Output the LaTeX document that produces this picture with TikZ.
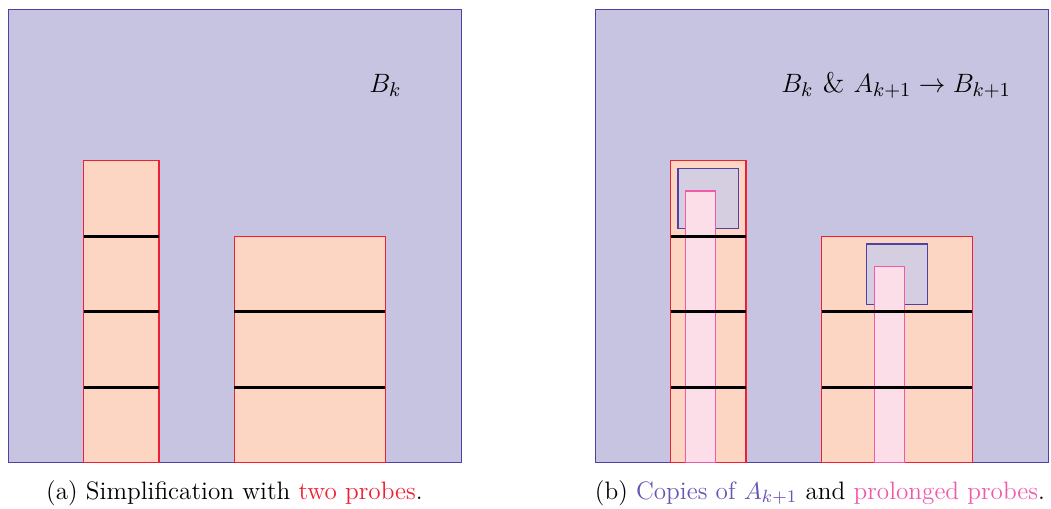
\documentclass[tikz,border=0pt]{standalone}
\usepackage{amsmath}
\usepackage{xcolor}
\usepackage{tikz}
\usetikzlibrary{positioning}

\definecolor{bkfill}{RGB}{199,196,226}
\definecolor{bkdraw}{RGB}{80,65,165}
\definecolor{probefill}{RGB}{252,213,195}
\definecolor{probedraw}{RGB}{240,30,50}
\definecolor{copyblue}{RGB}{105,85,180}
\definecolor{longfill}{RGB}{251,222,232}
\definecolor{longdraw}{RGB}{240,90,170}

\begin{document}
\begin{tikzpicture}[
    x=1.2cm,y=1.2cm,
    region/.style={draw=bkdraw,fill=bkfill,line width=0.4pt},
    probe/.style={draw=probedraw,fill=probefill,line width=0.5pt},
    copybox/.style={draw=bkdraw,fill=bkfill!85!white,fill opacity=0.85,line width=0.6pt},
    longprobe/.style={draw=longdraw,fill=longfill,line width=0.6pt},
    level/.style={line width=1.2pt,draw=black},
    label/.style={font=\fontsize{12.8}{15}\selectfont},
    caption/.style={font=\fontsize{11.4}{13.5}\selectfont,anchor=base}
  ]
    \useasboundingbox (-0.106,-0.61) rectangle (13.815,6.13);

    % left panel
    \draw[region] (0,0) rectangle (6,6);
    \node[label] (bk) at (5.0,5) {$B_k$};
    \draw[probe] (1,0) rectangle (2,4);
    \draw[probe] (3,0) rectangle (5,3);
    \draw[level] (1,1) -- (2,1) (1,2) -- (2,2) (1,3) -- (2,3);
    \draw[level] (3,1) -- (5,1) (3,2) -- (5,2);
    \node[caption] (capa) at (3,-0.48) {(a) Simplification with \textcolor{probedraw}{two probes}.};

    % right panel
    \begin{scope}[xshift=7.775*1.2cm]
      \draw[region] (0,0) rectangle (6,6);
      \node[label] (bknext) at (3.99,5) {$B_k$ \& $A_{k+1}\to B_{k+1}$};
      \draw[probe] (1,0) rectangle (2,4);
      \draw[probe] (3,0) rectangle (5,3);
      \draw[copybox] (1.1,3.1) rectangle (1.9,3.9);
      \draw[copybox] (3.6,2.1) rectangle (4.4,2.9);
      \draw[longprobe] (1.2,0) rectangle (1.6,3.6);
      \draw[longprobe] (3.7,0) rectangle (4.1,2.6);
      \draw[level] (1,1) -- (2,1) (1,2) -- (2,2) (1,3) -- (2,3);
      \draw[level] (3,1) -- (5,1) (3,2) -- (5,2);
      \node[caption] (capb) at (2.98,-0.48) {(b) \textcolor{copyblue}{Copies of $A_{k+1}$} and \textcolor{longdraw}{prolonged probes}.};
    \end{scope}
  \end{tikzpicture}
\end{document}
